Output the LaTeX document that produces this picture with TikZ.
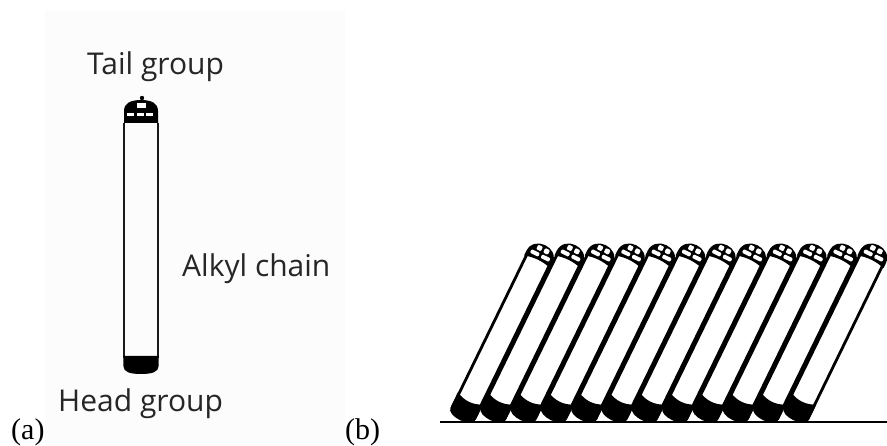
\documentclass[tikz,border=0pt]{standalone}
\usepackage{fontspec}
\setmainfont{Liberation Serif}
\newfontfamily\labelfont{Open Sans}
\begin{document}
\begin{tikzpicture}[x=1pt,y=-1pt,
  lbl/.style={font=\labelfont\fontsize{30}{36}\selectfont, text=black!85, inner sep=0pt, anchor=base west},
  panellbl/.style={font=\fontsize{30}{36}\selectfont, inner sep=0pt, anchor=base west},
  chainline/.style={line width=1.3pt, black!90},
  bodyline/.style={line width=2.8pt, black},
]
\useasboundingbox (0,0) rectangle (887,446);
% faint backdrop of panel (a)
\fill[black!1.2] (45,10) rectangle (345,446);

% ---- (a) single upright molecule ----
% tail group: small knob and a dark dome with light cells
\fill (142,98) circle[radius=2.2];
\fill (124,123) -- (124,111) .. controls (124,103) and (131,100) .. (141,100)
      .. controls (151,100) and (158,103) .. (158,111) -- (158,123) -- cycle;
\fill[white] (137,103) rectangle (145.5,108.5);
\fill[white] (127,113) rectangle (134,116);
\fill[white] (136.5,113) rectangle (143.5,116);
\fill[white] (146,113) rectangle (153,116);
% alkyl chain
\draw[chainline] (124,123) -- (124,358);
\draw[chainline] (158,123) -- (158,358);
% head group
\fill (123.4,356) -- (158.6,356) -- (158.6,366) .. controls (158.6,372) and (152,374) .. (141,374)
      .. controls (130,374) and (123.4,372) .. (123.4,366) -- cycle;

\node[lbl] (tail) at (87,75) {Tail group};
\node[lbl] (alkyl) at (182,277) {Alkyl chain};
\node[lbl] (head) at (58,412) {Head group};
\node[panellbl] (la) at (11,439) {(a)};

% ---- (b) tilted monolayer on a substrate ----
\draw[line width=2pt] (440,422) -- (887,422);
\foreach \i in {0,...,11}{
  \begin{scope}[shift={({460+30.3*\i},420)}, rotate=-26]
    % chain body
    \fill[white] (-12.5,-6) rectangle (12.5,-178);
    \draw[bodyline] (-12.5,-8) -- (-12.5,-178);
    \draw[bodyline] (12.5,-8) -- (12.5,-178);
    % head group
    \fill (-14,-24) .. controls (-5,-19) and (5,-19) .. (14,-24) -- (14,-7)
          .. controls (14,2.5) and (-14,2.5) .. (-14,-7) -- cycle;
    % tail group dome with a grid of light cells
    \fill (-14.5,-176) -- (-14.5,-181) .. controls (-14.5,-199) and (14.5,-199) .. (14.5,-181)
          -- (14.5,-176) .. controls (5,-179) and (-5,-179) .. cycle;
    \fill[white, rounded corners=1pt] (-6.5,-192) rectangle (-1.3,-187);
    \fill[white, rounded corners=1pt] (1.3,-192) rectangle (6.5,-187);
    \fill[white, rounded corners=1pt] (-10.5,-185) rectangle (-1.3,-181);
    \fill[white, rounded corners=1pt] (1.3,-185) rectangle (10.5,-181);
  \end{scope}
}
\node[panellbl] (lb) at (345,439) {(b)};
\end{tikzpicture}
\end{document}
